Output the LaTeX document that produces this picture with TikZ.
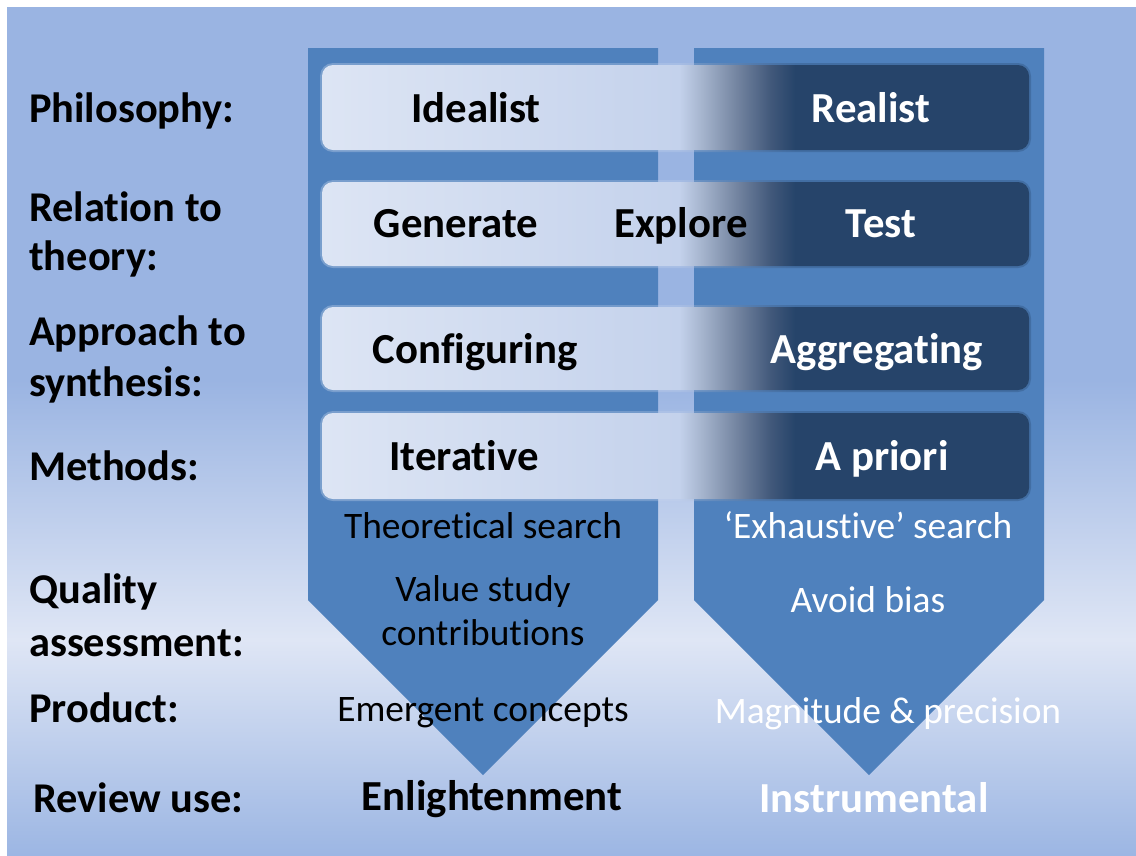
\documentclass[tikz,border=0pt]{standalone}
\usepackage{fontspec}
\setmainfont{Carlito}[RawFeature={-liga;-clig;-calt;-dlig}]
\newcommand\brk{\kern0pt }
\definecolor{bgblue}{RGB}{154,180,226}
\definecolor{bglight}{RGB}{223,230,245}
\definecolor{bgbot}{RGB}{156,182,227}
\definecolor{chev}{RGB}{79,129,189}
\definecolor{barL}{RGB}{221,229,244}
\definecolor{barM}{RGB}{196,210,236}
\definecolor{barA}{RGB}{165,180,205}
\definecolor{barB}{RGB}{115,132,160}
\definecolor{barC}{RGB}{65,88,122}
\definecolor{barD}{RGB}{38,68,106}
\pgfdeclareverticalshading{panelshade}{100bp}{color(0bp)=(bgbot); color(25bp)=(bgbot); color(37.7bp)=(bglight); color(53bp)=(bgblue); color(75bp)=(bgblue); color(100bp)=(bgblue)}
\pgfdeclarehorizontalshading{barshade}{100bp}{color(0bp)=(barL); color(25bp)=(barL); color(50.25bp)=(barM); color(51.87bp)=(barA); color(54.35bp)=(barB); color(56.75bp)=(barC); color(58.45bp)=(barD); color(75bp)=(barD); color(100bp)=(barD)}
\tikzset{
  lab/.style={anchor=base west, inner sep=0pt, font=\fontsize{42.4}{50}\selectfont\bfseries, text=black},
  bartxt/.style={anchor=base, inner sep=0pt, font=\fontsize{42.8}{50}\selectfont\bfseries},
  plaintxt/.style={anchor=base, inner sep=0pt, font=\fontsize{37.4}{44}\selectfont},
  chevron/.style={fill=chev, draw=none},
  barbox/.style={shading=barshade, draw=none, rounded corners=11pt},
  barglow/.style={shading=barshade, draw=none, rounded corners=13pt, opacity=0.3}
}
\newcommand\mysoftbar[2]{%
  \shade[barglow] (320,#1-2) rectangle (1031,#2+2);
  \shade[barbox] (322,#1) rectangle (1029,#2);
}
\begin{document}
\begin{tikzpicture}[x=1pt,y=-1pt]
\useasboundingbox (0,0) rectangle (1136,855);
\fill[white] (0,0) rectangle (1136,855);
\shade[shading=panelshade] (7,7) rectangle (1136,855);
% chevrons
\fill[chevron] (308,48) -- (658,48) -- (658,600) -- (483,775) -- (308,600) -- cycle;
\fill[chevron] (694,48) -- (1044,48) -- (1044,600) -- (869,775) -- (694,600) -- cycle;
% bars
\mysoftbar{65}{150}
\mysoftbar{182}{266}
\mysoftbar{307}{390}
\mysoftbar{413}{499}
% left labels
\node[lab] (phil) at (29,122) {Philosophy:};
\node[lab] (rel1) at (29,221) {Relat\brk ion to};
\node[lab] (rel2) at (29,270) {theory:};
\node[lab] (app1) at (29,345) {Approach to};
\node[lab] (app2) at (29,396) {synthesis:};
\node[lab] (meth) at (29,480) {Methods:};
\node[lab] (qual1) at (29,603) {Quality};
\node[lab] (qual2) at (29,656) {assessment:};
\node[lab] (prod) at (29,722) {Product:};
\node[lab] (rev) at (33,812) {Review use:};
% bar texts
\node[bartxt, text=black] (ideal) at (476,122) {Idealist};
\node[bartxt, text=white] (real) at (871,122) {Realist};
\node[bartxt, text=black] (gen) at (456,237) {Generate};
\node[bartxt, text=black] (expl) at (681,237) {Explore};
\node[bartxt, text=white] (test) at (881,237) {Test};
\node[bartxt, text=black] (conf) at (475,363) {Configuring};
\node[bartxt, text=white] (aggr) at (877,363) {Aggregat\brk ing};
\node[bartxt, text=black] (iter) at (464,470) {Iterat\brk ive};
\node[bartxt, text=white] (apri) at (882,470) {A priori};
% plain texts
\node[plaintxt, text=black] (theo) at (483,538) {Theoret\brk ical search};
\node[plaintxt, text=white] (exh) at (868,538) {‘Exhaust\brk ive’ search};
\node[plaintxt, text=black] (val1) at (483,601) {Value study};
\node[plaintxt, text=black] (val2) at (483,645) {contribut\brk ions};
\node[plaintxt, text=white] (avoid) at (868,612) {Avoid bias};
\node[plaintxt, text=black] (emer) at (483,721) {Emergent concepts};
\node[plaintxt, text=white] (magn) at (888,723) {Magnitude \& precision};
\node[bartxt, text=black] (enl) at (492,810) {Enlightenment};
\node[bartxt, text=white] (instr) at (874,812) {Instrumental};
\end{tikzpicture}
\end{document}
